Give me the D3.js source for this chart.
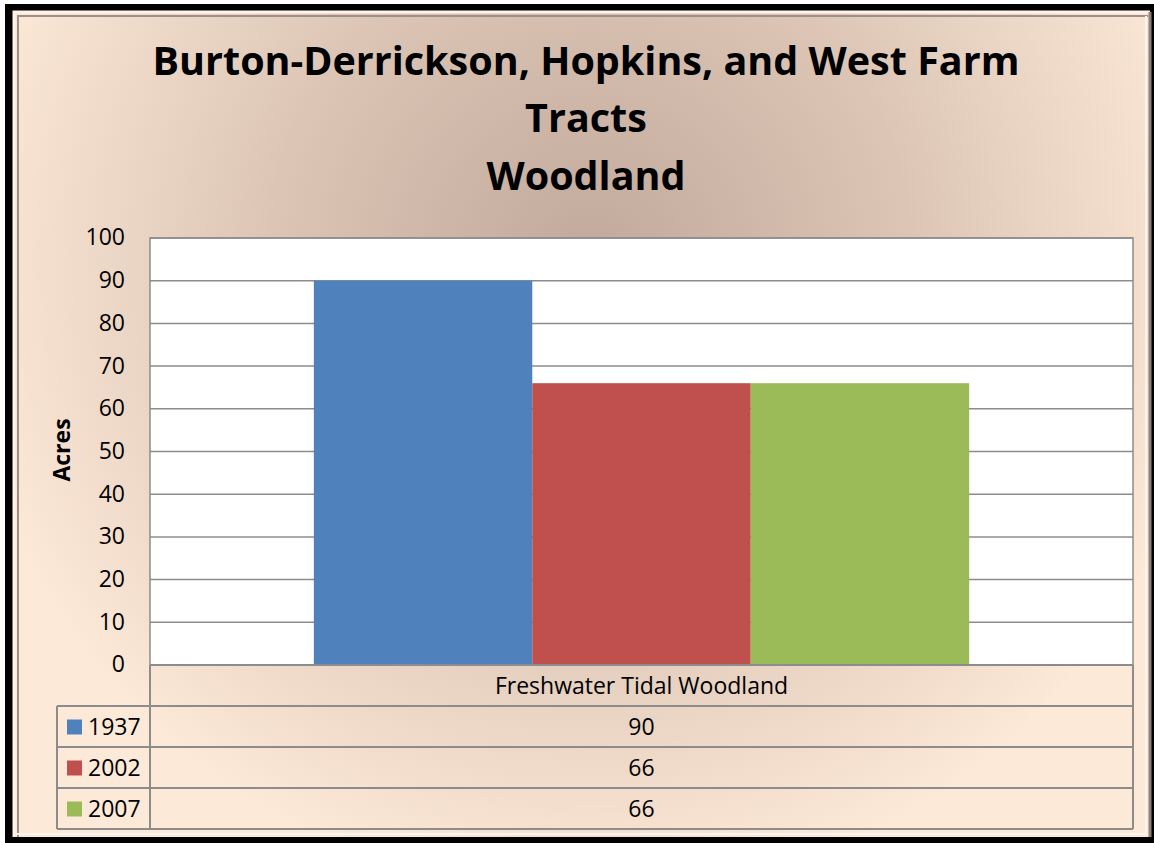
<!DOCTYPE html>
<html><head><meta charset="utf-8">
<script src="https://cdn.jsdelivr.net/npm/d3@7"></script>
<style>html,body{margin:0;padding:0;background:#fff;}svg{display:block;}</style>
</head><body>
<script>
const titleLines = ["Burton-Derrickson, Hopkins, and West Farm", "Tracts", "Woodland"];
const categories = ["Freshwater Tidal Woodland"];
const seriesNames = ["1937", "2002", "2007"];
const seriesValues = [[90], [66], [66]];
const seriesColors = ["#4f81bd", "#c0504d", "#9bbb59"];
const yTicks = [0, 10, 20, 30, 40, 50, 60, 70, 80, 90, 100];
const yLabel = "Acres";

const W = 1154, H = 843;
const svg = d3.select("body").append("svg").attr("width", W).attr("height", H);
const defs = svg.append("defs");
const rg = defs.append("radialGradient").attr("id", "bg")
  .attr("gradientUnits", "userSpaceOnUse").attr("cx", 590).attr("cy", 260).attr("r", 640)
  .attr("fx", 590).attr("fy", 260);
rg.append("stop").attr("offset", 0).attr("stop-color", "#c1a99b");
rg.append("stop").attr("offset", 0.5).attr("stop-color", "#dcc5b5");
rg.append("stop").attr("offset", 1).attr("stop-color", "#fde9d8");

// black frame
svg.append("rect").attr("x", 5).attr("y", 4).attr("width", W).attr("height", H).attr("fill", "#000");
svg.append("rect").attr("x", 14).attr("y", 12).attr("width", 1136).attr("height", 825).attr("fill", "url(#bg)");
// bevel
svg.append("path").attr("d", "M14,837 L14,12 L1150,12").attr("fill", "none").attr("stroke", "#fff4ea").attr("stroke-width", 3);
svg.append("path").attr("d", "M18,837 L18,16 L1148,16").attr("fill", "none").attr("stroke", "#9e9088").attr("stroke-width", 2);
svg.append("path").attr("d", "M1150,12 L1150,837").attr("fill", "none").attr("stroke", "#8e8078").attr("stroke-width", 3);
svg.append("path").attr("d", "M1146,16 L1146,834 L16,834").attr("fill", "none").attr("stroke", "#fff4ea").attr("stroke-width", 2);

const fontFam = "'Open Sans', 'Noto Sans', sans-serif";
const fs = 23;
// title
const tY = [75, 132, 190];
titleLines.forEach((t, i) => {
  svg.append("text").attr("x", 586).attr("y", tY[i]).attr("text-anchor", "middle")
    .attr("font-family", fontFam).attr("font-weight", "bold").attr("font-size", 39.5)
    .attr("fill", "#000").text(t);
});

const plot = {l: 150, r: 1133, t: 238, b: 665};
const y = d3.scaleLinear().domain([0, 100]).range([plot.b, plot.t]);
const x0 = d3.scaleBand().domain(categories).range([plot.l, plot.r]).paddingInner(0).paddingOuter(0.25);
const x1 = d3.scaleBand().domain(seriesNames).range([0, x0.bandwidth()]);

svg.append("rect").attr("x", plot.l).attr("y", plot.t).attr("width", plot.r - plot.l).attr("height", plot.b - plot.t)
  .attr("fill", "#fff").attr("stroke", "#8c8c8c").attr("stroke-width", 1.5);

// gridlines
svg.append("g").selectAll("line").data(yTicks.filter(d => d > 0)).join("line")
  .attr("x1", plot.l).attr("x2", plot.r).attr("y1", d => y(d)).attr("y2", d => y(d))
  .attr("stroke", "#8c8c8c").attr("stroke-width", 1.5);

// bars
seriesNames.forEach((s, si) => {
  svg.append("g").selectAll("rect").data(categories).join("rect")
    .attr("x", c => x0(c) + x1(s)).attr("width", x1.bandwidth())
    .attr("y", (c, ci) => y(seriesValues[si][ci]))
    .attr("height", (c, ci) => y(0) - y(seriesValues[si][ci]))
    .attr("fill", seriesColors[si]);
});

// y axis
const yAxis = d3.axisLeft(y).tickValues(yTicks).tickSize(0).tickPadding(25);
const ga = svg.append("g").attr("transform", `translate(${plot.l},0)`).call(yAxis);
ga.select(".domain").remove();
ga.selectAll("text").attr("font-family", fontFam).attr("font-size", fs).attr("fill", "#000").attr("dy", "0.3em");

svg.append("text").attr("transform", `translate(70,450) rotate(-90)`).attr("text-anchor", "middle")
  .attr("font-family", fontFam).attr("font-weight", "bold").attr("font-size", 23).text(yLabel);

// data table
const rowH = 41;
const tableTop = plot.b;
const tableLeft = 57;
const gt = svg.append("g").attr("stroke", "#8c8c8c").attr("stroke-width", 2).attr("fill", "none");
gt.append("path").attr("d", `M${plot.l},${tableTop} L${plot.l},${tableTop + rowH * 4} M${plot.r},${tableTop} L${plot.r},${tableTop + rowH * 4}`);
for (let i = 1; i <= 4; i++) {
  gt.append("line").attr("x1", tableLeft).attr("x2", plot.r).attr("y1", tableTop + rowH * i).attr("y2", tableTop + rowH * i);
}
gt.append("line").attr("x1", tableLeft).attr("x2", tableLeft).attr("y1", tableTop + rowH).attr("y2", tableTop + rowH * 4);
gt.append("line").attr("x1", plot.l).attr("x2", plot.r).attr("y1", tableTop).attr("y2", tableTop);

categories.forEach(c => {
  svg.append("text").attr("x", x0(c) + x0.bandwidth() / 2).attr("y", tableTop + rowH / 2).attr("dy", "0.35em")
    .attr("text-anchor", "middle").attr("font-family", fontFam).attr("font-size", fs).text(c);
});
seriesNames.forEach((s, si) => {
  const ry = tableTop + rowH * (si + 1);
  svg.append("rect").attr("x", 67).attr("y", ry + rowH / 2 - 7).attr("width", 15).attr("height", 15).attr("fill", seriesColors[si]);
  svg.append("text").attr("x", 88).attr("y", ry + rowH / 2).attr("dy", "0.35em")
    .attr("font-family", fontFam).attr("font-size", fs).text(s);
  categories.forEach((c, ci) => {
    svg.append("text").attr("x", x0(c) + x0.bandwidth() / 2).attr("y", ry + rowH / 2).attr("dy", "0.35em")
      .attr("text-anchor", "middle").attr("font-family", fontFam).attr("font-size", fs).text(seriesValues[si][ci]);
  });
});
</script>
</body></html>
